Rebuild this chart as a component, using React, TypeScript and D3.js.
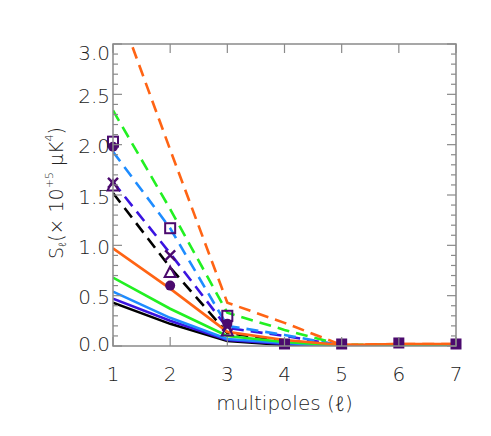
import React from 'react';
import * as d3 from 'd3';

// multipole index
const ells = [1, 2, 3, 4, 5, 6, 7];

// dashed curves
const dashBlack = [1.52, 0.78, 0.13, 0.05, 0.005, 0.01, 0.01];
const dashViolet = [1.63, 0.92, 0.18, 0.1, 0.005, 0.01, 0.01];
const dashBlue = [1.93, 1.17, 0.2, 0.11, 0.005, 0.01, 0.01];
const dashGreen = [2.34, 1.36, 0.33, 0.16, 0.01, 0.015, 0.015];
const dashOrange = [3.5, 1.95, 0.43, 0.23, 0.01, 0.02, 0.02];

// solid curves
const solidBlack = [0.43, 0.22, 0.05, 0.01, 0.0, 0.005, 0.005];
const solidViolet = [0.47, 0.25, 0.06, 0.02, 0.0, 0.005, 0.005];
const solidBlue = [0.54, 0.28, 0.07, 0.03, 0.0, 0.005, 0.005];
const solidGreen = [0.68, 0.37, 0.1, 0.04, 0.005, 0.01, 0.01];
const solidOrange = [0.97, 0.57, 0.14, 0.06, 0.01, 0.02, 0.02];

// purple symbols (l = 1..3)
const symEll = [1, 2, 3];
const circleVals = [1.98, 0.6, 0.22];
const squareVals = [2.03, 1.17, 0.3];
const crossVals = [1.62, 0.9, 0.2];
const triangleVals = [1.59, 0.73, 0.15];
// overlapping symbols at high l
const tailEll = [4, 5, 6, 7];
const tailVals = [0.02, 0.02, 0.03, 0.02];

const yTicks = [0, 0.5, 1.0, 1.5, 2.0, 2.5, 3.0];

const C_BLACK = '#000000';
const C_VIOLET = '#3a14e0';
const C_BLUE = '#1e8cff';
const C_GREEN = '#22f022';
const C_ORANGE = '#ff6414';
const C_PURPLE = '#4b0a6e';

const series = [
  { v: dashBlack, c: C_BLACK, dash: true },
  { v: dashViolet, c: C_VIOLET, dash: true },
  { v: dashBlue, c: C_BLUE, dash: true },
  { v: dashGreen, c: C_GREEN, dash: true },
  { v: dashOrange, c: C_ORANGE, dash: true },
  { v: solidBlack, c: C_BLACK, dash: false },
  { v: solidViolet, c: C_VIOLET, dash: false },
  { v: solidBlue, c: C_BLUE, dash: false },
  { v: solidGreen, c: C_GREEN, dash: false },
  { v: solidOrange, c: C_ORANGE, dash: false },
];

const W = 491;
const H = 436;
const left = 113, right = 456, top = 44, bottom = 346;
const FONT = "'DejaVu Sans', sans-serif";
const ELL_FONT = "'Noto Sans', sans-serif";

export default function App() {
  const x = d3.scaleLinear().domain([1, 7]).range([left, right]);
  const y = d3.scaleLinear().domain([0, 3.0]).range([bottom, top]);
  const line = d3.line<number>().x((_, i) => x(ells[i])).y(d => y(d));

  const minor = d3.range(0, 30.5, 1).map(d => d / 10);
  const axisCol = '#8a8a8a';

  return (
    <svg width={W} height={H} style={{ position: 'absolute', left: 0, top: 0 }}>
      <rect width={W} height={H} fill="#fff" />
      <defs>
        <clipPath id="plot">
          <rect x={left} y={top} width={right - left} height={bottom - top} />
        </clipPath>
      </defs>

      <g clipPath="url(#plot)">
        {series.map((s, i) => (
          <path key={i} d={line(s.v) || ''} fill="none" stroke={s.c}
            strokeWidth={2.6} strokeDasharray={s.dash ? '12,7' : undefined} />
        ))}
      </g>

      {/* symbols */}
      <g fill="none" stroke={C_PURPLE} strokeWidth={2}>
        {symEll.map((e, i) => (
          <rect key={'s' + i} x={x(e) - 5} y={y(squareVals[i]) - 5} width={10} height={10} />
        ))}
        {symEll.map((e, i) => {
          const cx = x(e), cy = y(triangleVals[i]);
          return <path key={'t' + i} d={`M${cx},${cy - 6}L${cx + 5.5},${cy + 4.5}L${cx - 5.5},${cy + 4.5}Z`} />;
        })}
        {symEll.map((e, i) => {
          const cx = x(e), cy = y(crossVals[i]);
          return <path key={'x' + i} strokeWidth={2.4} d={`M${cx - 5},${cy - 5}L${cx + 5},${cy + 5}M${cx + 5},${cy - 5}L${cx - 5},${cy + 5}`} />;
        })}
      </g>
      <g fill={C_PURPLE}>
        {symEll.map((e, i) => (
          <circle key={'c' + i} cx={x(e)} cy={y(circleVals[i])} r={5} />
        ))}
        {tailEll.map((e, i) => (
          <rect key={'q' + i} x={x(e) - 5.5} y={y(tailVals[i]) - 5.5} width={11} height={11} />
        ))}
      </g>

      {/* frame */}
      <rect x={left} y={top} width={right - left} height={bottom - top} fill="none" stroke={axisCol} strokeWidth={1.5} />
      <g stroke={axisCol} strokeWidth={1.2}>
        {minor.map((t, i) => {
          const len = i % 5 === 0 ? 9 : 5;
          return (
            <g key={i}>
              <line x1={left} x2={left + len} y1={y(t)} y2={y(t)} />
              <line x1={right} x2={right - len} y1={y(t)} y2={y(t)} />
            </g>
          );
        })}
        {ells.map(e => (
          <g key={e}>
            <line x1={x(e)} x2={x(e)} y1={bottom} y2={bottom - 9} />
            <line x1={x(e)} x2={x(e)} y1={top} y2={top + 9} />
          </g>
        ))}
      </g>

      {/* tick labels */}
      <g fontFamily={FONT} fontWeight={200} fontSize={20} fill="#222">
        {yTicks.map(t => {
          const cy = Math.min(Math.max(y(t) + 1.5, top + 9), bottom - 2);
          return (
            <text key={t} x={left - 3} y={cy} textAnchor="end" dominantBaseline="central">
              {t.toFixed(1)}
            </text>
          );
        })}
        {ells.map(e => (
          <text key={e} x={x(e)} y={374} textAnchor="middle" dominantBaseline="central">{e}</text>
        ))}
        <text x={(left + right) / 2} y={403} textAnchor="middle" dominantBaseline="central">
          multipoles (<tspan fontFamily={ELL_FONT} fontWeight={300} fontStyle="italic">ℓ</tspan>)
        </text>
        <text transform={`translate(56,${(top + bottom) / 2 - 2}) rotate(-90)`} textAnchor="middle" dominantBaseline="central" fontSize={19}>
          S<tspan fontSize={10} dy={6} fontFamily={ELL_FONT} fontWeight={300}>ℓ</tspan>
          <tspan dy={-6}>(× 10</tspan>
          <tspan fontSize={11} dy={-7}>+5</tspan>
          <tspan dy={7}>{'  μK'}</tspan>
          <tspan fontSize={11} dy={-7}>4</tspan>
          <tspan dy={7}>)</tspan>
        </text>
      </g>
    </svg>
  );
}
